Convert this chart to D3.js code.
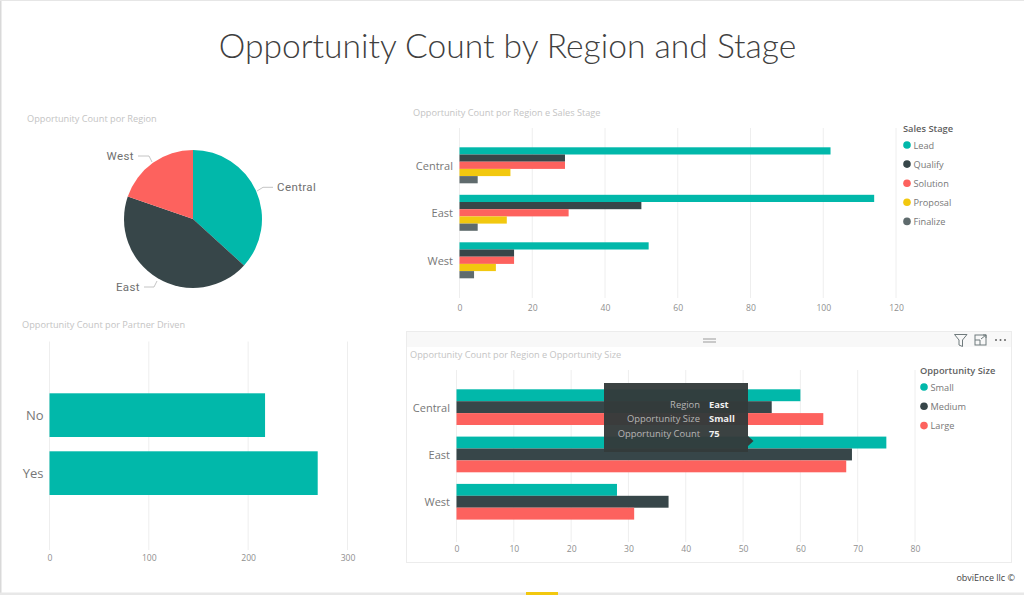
<!DOCTYPE html>
<html><head><meta charset="utf-8">
<script src="https://cdn.jsdelivr.net/npm/d3@7"></script>
<style>
html,body{margin:0;padding:0;background:#fff;overflow:hidden}
svg{display:block}
text{font-family:"Open Sans","Noto Sans",sans-serif}
.ax .domain,.ax .tick line{display:none}
</style></head><body>
<svg id="c" width="1024" height="595"></svg>
<script>
const regions = ["Central","East","West"];
const stages = ["Lead","Qualify","Solution","Proposal","Finalize"];
const stageLead = [102,114,52];
const stageQualify = [29,50,15];
const stageSolution = [29,30,15];
const stageProposal = [14,13,10];
const stageFinalize = [5,5,4];
const sizes = ["Small","Medium","Large"];
const sizeSmall = [60,75,28];
const sizeMedium = [55,69,37];
const sizeLarge = [64,68,31];
const partner = ["No","Yes"];
const partnerCount = [217,270];
const regionTotals = [179,212,96];
const stageTicks = [0,20,40,60,80,100,120];
const sizeTicks = [0,10,20,30,40,50,60,70,80];
const partnerTicks = [0,100,200,300];
const teal="#01B8AA", dark="#374649", red="#FD625E", yellow="#F2C80F", slate="#5F6B6D";

const svg=d3.select("#c");
svg.append("rect").attr("x",0).attr("y",0).attr("width",1.5).attr("height",595).attr("fill","#d9d9d9");
svg.append("rect").attr("x",0).attr("y",0).attr("width",1024).attr("height",1).attr("fill","#e6e6e6");
svg.append("rect").attr("x",0).attr("y",592.5).attr("width",1024).attr("height",2.5).attr("fill","#e8e8e8");
svg.append("rect").attr("x",526).attr("y",592).attr("width",32).attr("height",3).attr("fill",yellow);

svg.append("text").attr("x",507.5).attr("y",58).attr("text-anchor","middle")
  .attr("font-size",33.6).attr("font-weight",300).attr("fill","#404040")
  .style("font-family","Lato,sans-serif").text("Opportunity Count by Region and Stage");

function title(x,y,t){svg.append("text").attr("x",x).attr("y",y).attr("font-size",9.2).attr("fill","#c4c4c4").text(t);}
function legend(x,y,head,names,cols,step){
  svg.append("text").attr("x",x).attr("y",y).attr("font-size",9.3).attr("font-weight",600).attr("fill","#5f5f5f").text(head);
  names.forEach((n,i)=>{
    const cy=y+13+i*step;
    svg.append("circle").attr("cx",x+4).attr("cy",cy).attr("r",3.8).attr("fill",cols[i]);
    svg.append("text").attr("x",x+10.5).attr("y",cy+3.5).attr("font-size",9.2).attr("fill","#777").text(n);
  });
}
function chart(o){
  const g=svg.append("g");
  const x=d3.scaleLinear().domain([0,o.ticks[o.ticks.length-1]]).range([o.x0,o.x1]);
  g.selectAll("line.g").data(o.ticks).join("line")
    .attr("x1",d=>x(d)).attr("x2",d=>x(d)).attr("y1",o.gt).attr("y2",o.gb)
    .attr("stroke","#eeeeee").attr("stroke-width",1);
  const y=d3.scaleOrdinal().domain(o.cats).range(o.cats.map((c,i)=>o.top+i*o.step));
  o.series.forEach((vals,s)=>{
    g.append("g").selectAll("rect").data(vals).join("rect")
      .attr("x",x(0)).attr("y",(d,i)=>y(o.cats[i])+s*o.bar)
      .attr("width",d=>x(d)-x(0)).attr("height",o.bar).attr("fill",o.colors[s]);
  });
  const ax=d3.axisBottom(x).tickValues(o.ticks).tickSize(0).tickPadding(0).tickFormat(d3.format("d"));
  const a=g.append("g").attr("class","ax").attr("transform",`translate(0,${o.axisY})`).call(ax);
  a.selectAll("text").attr("font-size",8.6).attr("fill","#8f8f8f").attr("dy",0).attr("y",0);
  const h=o.bar*o.series.length;
  const ay=d3.axisLeft(d3.scalePoint().domain(o.cats).range([o.top+h/2,o.top+h/2+o.step*(o.cats.length-1)]))
    .tickSize(0).tickPadding(0);
  const l=g.append("g").attr("class","ax").attr("transform",`translate(${o.x0-o.labGap},0)`).call(ay);
  l.selectAll("text").attr("font-size",o.catFs).attr("fill","#777").attr("dy","0.35em");
  g.selectAll(".ax text").style("font-family",'"Open Sans",sans-serif');
}

// Pie
title(27,122,"Opportunity Count por Region");
const pieData=d3.pie().sort(null)(regionTotals);
const arc=d3.arc().innerRadius(0).outerRadius(69);
const pg=svg.append("g").attr("transform","translate(193,219)");
pg.selectAll("path").data(pieData).join("path").attr("d",arc).attr("fill",(d,i)=>[teal,dark,red][i]);
const leaders=[[[64,-28],[70,-31.7],[80,-31.7],"start"],[[-36,62],[-39,68],[-49,68],"end"],[[-41,-57],[-44,-63],[-55,-63],"end"]];
pieData.forEach((d,i)=>{
  const L=leaders[i];
  pg.append("path").attr("d",d3.line()(L.slice(0,3))).attr("fill","none").attr("stroke","#b5b5b5").attr("stroke-width",0.8);
  pg.append("text").attr("x",L[2][0]+(L[3]==="start"?4:-4)).attr("y",L[2][1]+4).attr("text-anchor",L[3])
    .attr("font-size",11.5).attr("font-weight",400).attr("letter-spacing",0.4).attr("fill","#6f6f6f")
    .style("font-family",'"Roboto",sans-serif').text(regions[i]);
});

// Stage chart
title(413,116,"Opportunity Count por Region e Sales Stage");
chart({x0:459.5,x1:896,ticks:stageTicks,gt:128,gb:298,axisY:311,cats:regions,top:147.3,step:47.5,bar:7.2,
  series:[stageLead,stageQualify,stageSolution,stageProposal,stageFinalize],
  colors:[teal,dark,red,yellow,slate],labGap:6.5,catFs:11});
legend(903,132,"Sales Stage",stages,[teal,dark,red,yellow,slate],19.1);

// Panel for size chart
svg.append("rect").attr("x",406.5).attr("y",331.5).attr("width",605).attr("height",231).attr("fill","#fff").attr("stroke","#ececec");
svg.append("rect").attr("x",407).attr("y",332).attr("width",604).attr("height",15).attr("fill","#f8f8f8");
svg.append("g").selectAll("line").data([339,342]).join("line").attr("x1",703).attr("x2",716).attr("y1",d=>d).attr("y2",d=>d).attr("stroke","#9a9a9a");
const icons=svg.append("g").attr("fill","none").attr("stroke","#6f7a7c");
icons.append("path").attr("d","M954.5 334.5H967L962.5 340V346.5L959 345V340Z");
icons.append("rect").attr("x",975).attr("y",335).attr("width",11).attr("height",10);
icons.append("path").attr("d","M975 340H980V345M981 339L986 335M983 335H986V338");
svg.append("g").selectAll("circle").data([996,1000.5,1005]).join("circle").attr("cx",d=>d).attr("cy",340).attr("r",1).attr("fill","#666");

title(410,358,"Opportunity Count por Region e Opportunity Size");
chart({x0:456.5,x1:915,ticks:sizeTicks,gt:370,gb:542,axisY:552,cats:regions,top:389.3,step:47.3,bar:11.9,
  series:[sizeSmall,sizeMedium,sizeLarge],colors:[teal,dark,red],labGap:6.5,catFs:11});
legend(920,374,"Opportunity Size",sizes,[teal,dark,red],19.3);

// Tooltip
const tip=svg.append("g");
tip.append("path").attr("d","M748 436L753.5 441L748 446Z").attr("fill","#333b3b");
tip.append("rect").attr("x",604).attr("y",383).attr("width",144).attr("height",69).attr("fill","#333a3a").attr("fill-opacity",0.96);
const tipKeys=["Region","Opportunity Size","Opportunity Count"], tipVals=["East","Small","75"];
tipKeys.forEach((k,i)=>{
  tip.append("text").attr("x",700).attr("y",407.5+i*14.5).attr("text-anchor","end").attr("font-size",9.4).attr("fill","#b5b5b5").text(k);
  tip.append("text").attr("x",709).attr("y",407.5+i*14.5).attr("font-size",9.4).attr("font-weight",700).attr("fill","#f0f0f0").text(tipVals[i]);
});

// Partner chart
title(22,328,"Opportunity Count por Partner Driven");
chart({x0:49.5,x1:347.5,ticks:partnerTicks,gt:341.5,gb:550,axisY:561,cats:partner,top:393.3,step:58,bar:43.7,
  series:[partnerCount],colors:[teal],labGap:6,catFs:13});

svg.append("text").attr("x",1015).attr("y",581).attr("text-anchor","end").attr("font-size",9).attr("fill","#444").text("obviEnce llc ©");
</script></body></html>
